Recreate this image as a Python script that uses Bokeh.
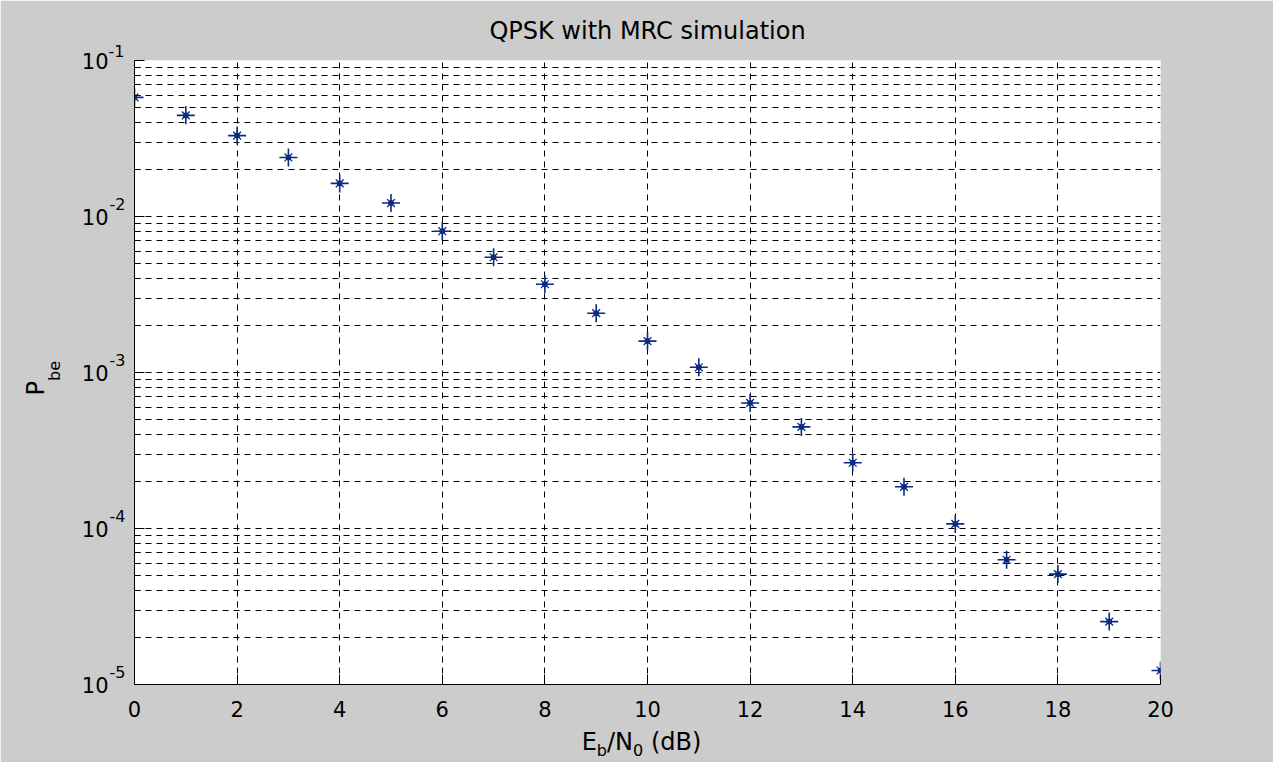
from bokeh.plotting import figure
from bokeh.models import (FixedTicker, Range1d, CustomJSTickFormatter, LinearAxis,
                          LogAxis, LogScale, Title)
from bokeh.embed import file_html
from bokeh.resources import INLINE

# ---- data ----
snr_db = list(range(0, 21))
ber = [0.058, 0.0445, 0.033, 0.0239, 0.0163, 0.0122, 0.00805, 0.00548,
       0.00368, 0.0024, 0.00159, 0.00108, 0.000638, 0.000448, 0.000264,
       0.000185, 0.000107, 6.3e-5, 5.1e-5, 2.53e-5, 1.23e-5]
x_ticks = list(range(0, 21, 2))
y_exponents = [-5, -4, -3, -2, -1]
y_major = [10.0 ** e for e in y_exponents]
y_minor = [m * 10.0 ** e for e in y_exponents[:-1] for m in range(2, 10)]
base_label = "10"
title_text = "QPSK with MRC simulation"
xlabel_pieces = [("E", False), ("b", True), ("/N", False), ("0", True), (" ", False), ("(dB)", False)]
ylabel_main, ylabel_sub = "P", "be"

# ---- style / layout ----
FONT = "DejaVu Sans"
MARK = "#0d2b80"
W, H = 1273, 762
L, R, T, B = 134, 113, 60, 77
F_TICK, F_LAB, F_SUB = 21, 24, 16
ADV = {"E": .632, "b": .635, "/": .337, "N": .748, "0": .636, " ": .318, "(": .390,
       "d": .635, "B": .686, ")": .390, "P": .603, "e": .615, "-": .361, "1": .636}

def adv(s, f):
    return sum(ADV[c] for c in s) * f

X_PX = (W - R - L) / (x_ticks[-1] - x_ticks[0])
DEC_PX = (H - T - B) / (y_exponents[-1] - y_exponents[0])

p = figure(width=W, height=H, x_range=Range1d(0, 20), y_range=Range1d(1e-5, 1e-1),
           y_axis_type="log", output_backend="svg", toolbar_location=None,
           min_border_left=L, min_border_right=R, min_border_top=T, min_border_bottom=B)
p.background_fill_color = "white"
p.border_fill_color = "#cccccc"
p.outline_line_color = None
p.title.visible = False

def txt(**kw):
    base = dict(text_font=FONT, text_font_style="normal", text_color="black")
    base.update(kw)
    return Title(**base)

# top exponent (above the frame, next to the top "10"), then the main title
sup_top = str(y_exponents[-1])
p.add_layout(txt(text=sup_top, align="left", offset=-(10 + adv(sup_top, F_SUB)),
                 standoff=8, text_font_size=f"{F_SUB}px"), "above")
p.add_layout(txt(text=title_text, align="center", standoff=-13,
                 text_font_size=f"{F_LAB}px"), "above")

xt = FixedTicker(ticks=x_ticks, minor_ticks=[])
yt = FixedTicker(ticks=y_major, minor_ticks=y_minor)

def plain(axis):
    axis.axis_line_color = None
    axis.major_tick_line_color = None
    axis.minor_tick_line_color = None
    axis.major_tick_in = axis.major_tick_out = 0
    axis.minor_tick_in = axis.minor_tick_out = 0

def tfont(axis, size):
    axis.major_label_text_font = FONT
    axis.major_label_text_font_size = f"{size}px"
    axis.major_label_text_color = "black"

ax = p.xaxis[0]
ax.ticker = xt
ax.axis_line_color = "black"
ax.major_tick_in, ax.major_tick_out = 10, 0
ax.minor_tick_in = ax.minor_tick_out = 0
ax.major_tick_line_color = "black"
tfont(ax, F_TICK)
ax.major_label_standoff = 16

ay = p.yaxis[0]
ay.ticker = yt
ay.axis_line_color = "black"
ay.major_tick_in, ay.major_tick_out = 10, 0
ay.minor_tick_in, ay.minor_tick_out = 6, 0
ay.major_tick_line_color = "black"
ay.minor_tick_line_color = "black"
ay.formatter = CustomJSTickFormatter(code="return ''")
ay.major_label_standoff = 0

# superscript exponents (auxiliary flipped log range, lifted above each tick)
lift = 13 / DEC_PX
p.extra_y_ranges = {"sup": Range1d(start=10.0 ** (y_exponents[-1] - y_exponents[0]), end=1.0)}
p.extra_y_scales = {"sup": LogScale()}
sup_vals = sorted(10.0 ** (y_exponents[-1] - e - lift) for e in y_exponents[:-1])
s_axis = LogAxis(y_range_name="sup", ticker=FixedTicker(ticks=sup_vals, minor_ticks=[]),
                 formatter=CustomJSTickFormatter(
                     args=dict(top=y_exponents[-1]),
                     code="return String(Math.round(top - Math.log10(tick)))"))
plain(s_axis)
s_axis.major_label_standoff = 9
tfont(s_axis, F_SUB)
p.add_layout(s_axis, "left")

t_axis = LogAxis(ticker=FixedTicker(ticks=y_major, minor_ticks=[]),
                 formatter=CustomJSTickFormatter(args=dict(lbl=base_label), code="return lbl"))
plain(t_axis)
t_axis.major_label_standoff = -2
tfont(t_axis, F_TICK)
p.add_layout(t_axis, "left")

# y label P_be (rotated titles)
p_start = 396
p.add_layout(txt(text=ylabel_sub, align="left", offset=(H - B) - (p_start - adv(ylabel_main, F_LAB)),
                 standoff=29, text_font_size=f"{F_SUB}px"), "left")
p.add_layout(txt(text=ylabel_main, align="left", offset=(H - B) - p_start,
                 standoff=-42, text_font_size=f"{F_LAB}px"), "left")

# x label E_b/N_0 (dB): main pieces and subscripts on two auxiliary axes
sizes = [F_SUB if s else F_LAB for _, s in xlabel_pieces]
widths = [adv(t, f) for (t, _), f in zip(xlabel_pieces, sizes)]
cx = (L + (W - R)) / 2 - 6
xpix = cx - sum(widths) / 2
main_c, main_t, sub_c, sub_t = [], [], [], []
for (t, s), w in zip(xlabel_pieces, widths):
    c = (xpix + w / 2 - L) / X_PX
    if t.strip():
        (sub_c if s else main_c).append(c)
        (sub_t if s else main_t).append(t)
    xpix += w

x2 = LinearAxis(ticker=FixedTicker(ticks=main_c, minor_ticks=[]),
                formatter=CustomJSTickFormatter(args=dict(texts=main_t), code="return texts[index]"))
plain(x2)
x2.major_label_standoff = 8
tfont(x2, F_LAB)
p.add_layout(x2, "below")

x3 = LinearAxis(ticker=FixedTicker(ticks=sub_c, minor_ticks=[]),
                formatter=CustomJSTickFormatter(args=dict(texts=sub_t), code="return texts[index]"))
plain(x3)
x3.major_label_standoff = -18
tfont(x3, F_SUB)
p.add_layout(x3, "below")

# grid
p.xgrid.ticker = xt
p.ygrid.ticker = yt
for g in (p.xgrid[0], p.ygrid[0]):
    g.grid_line_color = "black"
    g.grid_line_dash = "6 5"
    g.grid_line_width = 1
p.ygrid[0].minor_grid_line_color = "black"
p.ygrid[0].minor_grid_line_dash = "6 5"

# markers: MATLAB-style '*'
p.scatter(snr_db, ber, marker="cross", size=18, line_color=MARK, line_width=1.6)
p.scatter(snr_db, ber, marker="x", size=11, line_color=MARK, line_width=1.3)
p.scatter(snr_db, ber, marker="circle", size=5, line_color=MARK, fill_color=MARK)

open("out.html", "w").write(file_html(p, INLINE))
